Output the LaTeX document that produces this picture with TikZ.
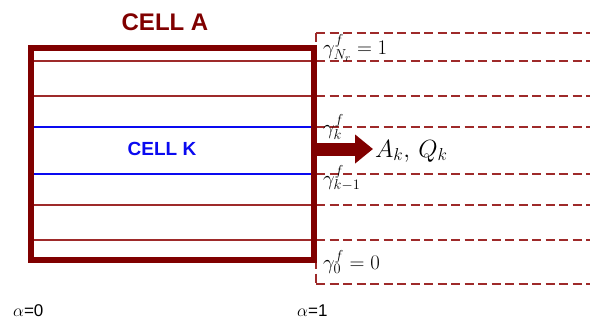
\documentclass[tikz,border=0pt]{standalone}
\usepackage{fontspec}
\setmainfont{Liberation Sans}
\usetikzlibrary{arrows.meta}
\definecolor{dred}{HTML}{800000}
\definecolor{lred}{HTML}{9E2A2A}
\definecolor{dblue}{HTML}{0A0AF0}
\begin{document}
\begin{tikzpicture}[x=1pt,y=-1pt,
  cellbox/.style={draw=dred,line width=6.5pt},
  inner/.style={draw=lred,line width=1.1pt},
  innerb/.style={draw=dblue,line width=1.1pt},
  dline/.style={draw=lred,line width=1.6pt,dash pattern=on 9pt off 4.5pt},
  lab/.style={inner sep=0pt,anchor=west,font=\fontsize{21}{21}\selectfont},
  alab/.style={inner sep=0pt,font=\fontsize{17}{17}\selectfont}]
\useasboundingbox (0,0) rectangle (590,322);
% dashed extension region
\draw[dline] (316,33) -- (592,33);
\draw[dline] (316,33) -- (316,48);
\draw[dline] (316,260) -- (316,284);
\draw[dline] (316,284) -- (592,284);
\foreach \y in {61,96,127,174,205,240} \draw[dline] (316,\y) -- (592,\y);
% inner lines
\foreach \y in {61,96,205,240} \draw[inner] (31,\y) -- (314,\y);
\foreach \y in {127,174} \draw[innerb] (28,\y) -- (314,\y);
% cell box
\draw[cellbox] (31,48) rectangle (314,260);
% labels
\node[inner sep=0pt,text=dred,font=\fontsize{24}{24}\selectfont\bfseries] (ca) at (165,22) {CELL A};
\node[inner sep=0pt,text=dblue,font=\fontsize{19}{19}\selectfont\bfseries] (ck) at (162,149) {CELL K};
\coordinate (as) at (317,149);
\coordinate (ae) at (373,149);
\draw[dred,line width=13pt,-{Triangle[length=18pt,width=28pt]}] (as) -- (ae);
\node[lab,font=\fontsize{23}{23}\selectfont] (aq) at (375,151) {$A_k,\,Q_k$};
\node[lab] (gN) at (323,48) {$\gamma^f_{N_r}=1$};
\node[lab] (gk) at (323,127) {$\gamma^f_{k}$};
\node[lab] (gk1) at (323,178) {$\gamma^f_{k-1}$};
\node[lab] (g0) at (323,262) {$\gamma^f_{0}=0$};
\node[alab,anchor=west] (a0) at (13,311) {$\alpha$=0};
\node[alab,anchor=west] (a1) at (297,311) {$\alpha$=1};
\end{tikzpicture}
\end{document}
